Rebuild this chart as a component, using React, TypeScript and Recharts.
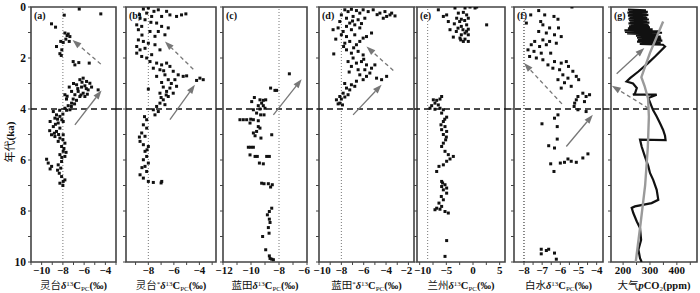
import type { ReactNode } from "react"
import {
  ReferenceArea,
  ReferenceLine,
  Scatter,
  ScatterChart,
  XAxis,
  YAxis,
} from "recharts"

type Pt = [number, number] // [value, age ka]

const ageTicks = [0, 1, 2, 3, 4, 5, 6, 7, 8, 9, 10]
const ageLabels = [0, 2, 4, 6, 8, 10]

// (a) Lingtai
const lingtai: Pt[] = [
  [-6.46, 0.08], [-4.43, 0.27], [-7.87, 0.32], [-9.07, 0.66], [-8.69, 0.79],
  [-7.81, 1.02], [-7.5, 1.06], [-7.34, 1.16], [-7.72, 1.26], [-7.97, 1.39], [-8.2, 1.35],
  [-7.4, 1.35], [-7.6, 1.12], [-8.6, 1.55], [-8.1, 1.68], [-8.28, 1.83], [-8.15, 1.9],
  [-7.03, 2.14], [-6.5, 2.18], [-6.87, 2.27], [-5.52, 2.2],
  [-6.4, 2.85], [-6.09, 2.79], [-5.77, 2.92], [-5.46, 2.99], [-6.71, 3.05], [-6.24, 3.14],
  [-5.93, 3.09], [-5.3, 3.14], [-5.62, 3.25], [-6.56, 3.31], [-6.09, 3.38], [-6.4, 3.51],
  [-5.93, 3.51], [-6.87, 3.44], [-4.68, 3.25], [-7.4, 3.14], [-7.18, 3.31], [-7.81, 3.44],
  [-7.66, 3.61], [-7.03, 3.61], [-6.72, 3.66], [-7.18, 3.77], [-7.5, 3.87], [-7.81, 3.97],
  [-7.34, 4.03], [-6.2, 2.95], [-5.8, 3.2], [-6.3, 3.45], [-5.7, 3.42], [-7.0, 3.0],
  [-6.6, 3.2], [-7.6, 3.5], [-6.9, 3.8], [-7.2, 3.9], [-7.65, 4.05],
  [-8.9, 4.1], [-8.6, 4.23], [-8.28, 4.29], [-8.75, 4.36], [-8.1, 4.42], [-8.44, 4.55],
  [-7.97, 4.49], [-8.9, 4.69], [-8.28, 4.75], [-8.6, 4.88], [-9.07, 5.01], [-8.75, 5.08],
  [-8.28, 5.14], [-7.97, 5.01], [-8.44, 5.27], [-8.12, 5.47], [-7.81, 5.34], [-7.97, 5.66],
  [-8.28, 5.79], [-7.81, 5.86], [-8.12, 6.06], [-9.53, 5.97], [-9.38, 6.12], [-9.06, 6.25],
  [-8.44, 6.19], [-8.2, 6.32], [-8.34, 6.52], [-8.12, 6.65], [-7.97, 6.84], [-8.28, 6.91],
  [-7.81, 6.78], [-9.2, 4.49], [-9.24, 4.85], [-8.5, 4.4], [-8.7, 4.6], [-8.4, 5.0],
  [-8.0, 5.2], [-7.9, 5.55], [-8.1, 5.9], [-9.2, 6.35], [-8.5, 6.4], [-8.0, 7.0],
  [-8.3, 4.05], [-8.0, 4.2], [-8.8, 4.95], [-7.7, 5.7],
]

// (b) Lingtai*
const lingtaiStar: Pt[] = [
  [-8.39, 0.08], [-8.0, 0.04], [-7.56, 0.17], [-7.22, 0.11], [-6.57, 0.17], [-8.13, 0.24],
  [-8.65, 0.44], [-8.26, 0.5], [-7.74, 0.37], [-6.96, 0.37], [-6.31, 0.31], [-5.79, 0.37],
  [-5.4, 0.31], [-5.06, 0.27], [-8.91, 0.7], [-8.52, 0.76], [-8.78, 0.89], [-7.35, 0.63],
  [-6.96, 0.76], [-6.44, 0.82], [-7.87, 0.96], [-7.22, 0.96], [-6.7, 1.09], [-7.48, 1.15],
  [-8.78, 1.29], [-8.39, 1.35], [-8.0, 1.42], [-8.91, 1.55], [-8.65, 1.68], [-8.26, 1.62],
  [-7.48, 1.48], [-7.09, 1.68], [-8.91, 1.81], [-8.52, 1.94], [-8.13, 2.0], [-7.74, 1.87],
  [-7.87, 2.14], [-7.35, 2.2], [-6.96, 2.27], [-6.57, 2.2], [-6.31, 2.33], [-7.61, 2.4],
  [-7.09, 2.46], [-6.05, 2.52], [-5.66, 2.66], [-5.27, 2.72], [-5.0, 2.7], [-6.7, 2.66],
  [-7.35, 2.72], [-3.96, 2.79], [-3.7, 2.85], [-4.22, 2.88], [-6.44, 2.85], [-5.92, 2.85],
  [-6.96, 2.96], [-6.83, 3.14], [-6.31, 3.18], [-5.79, 3.11], [-6.57, 3.31], [-6.05, 3.38],
  [-7.09, 3.38], [-8.0, 3.22], [-6.44, 3.51], [-6.83, 3.64], [-6.7, 3.83], [-7.09, 3.77],
  [-7.35, 3.9], [-7.61, 4.03], [-7.22, 4.1], [-7.48, 4.23], [-6.6, 3.45], [-6.2, 3.0],
  [-7.8, 0.6], [-8.5, 1.1], [-8.7, 0.3], [-6.8, 2.5], [-7.0, 3.55],
  [-8.13, 4.42], [-8.39, 4.62], [-8.13, 4.75], [-8.52, 4.94], [-8.26, 5.07], [-8.65, 5.27],
  [-8.39, 5.4], [-8.0, 5.47], [-8.26, 5.66], [-8.13, 5.86], [-8.39, 5.99], [-8.0, 6.12],
  [-8.26, 6.25], [-8.13, 6.45], [-8.65, 6.58], [-8.39, 6.71], [-8.0, 6.84], [-7.61, 6.88],
  [-6.95, 6.84], [-7.0, 6.9], [-8.7, 5.1], [-8.1, 5.6], [-8.5, 6.3], [-8.3, 4.3],
]

// (c) Lantian
const lantian: Pt[] = [
  [-7.26, 2.62], [-8.6, 3.18], [-8.29, 3.27], [-8.17, 3.27], [-9.76, 3.55], [-9.95, 3.71],
  [-9.36, 3.64], [-9.12, 3.66], [-8.95, 3.64], [-9.24, 3.77], [-9.48, 3.87], [-9.12, 3.87],
  [-9.36, 4.0], [-9.0, 3.97], [-9.6, 4.16], [-9.31, 4.23], [-9.07, 4.23], [-9.83, 4.03],
  [-10.79, 4.42], [-10.55, 4.42], [-10.31, 4.42], [-10.02, 4.4], [-9.83, 4.42], [-10.07, 4.55],
  [-9.48, 4.46], [-9.48, 4.69], [-9.6, 4.88], [-9.83, 4.94], [-9.36, 4.75], [-9.71, 5.05],
  [-9.29, 5.14], [-8.52, 5.01], [-10.19, 5.5], [-10.02, 5.5], [-9.83, 5.5], [-10.07, 5.8],
  [-9.71, 5.86], [-9.55, 5.86], [-8.88, 5.86], [-8.69, 5.86], [-9.4, 6.12], [-9.12, 6.15],
  [-9.24, 6.91], [-9.07, 6.93], [-8.76, 6.93], [-8.6, 7.06], [-8.48, 6.97],
  [-8.52, 7.89], [-8.69, 8.02], [-8.83, 8.15], [-8.69, 8.32], [-8.64, 8.45], [-8.76, 8.65],
  [-8.71, 8.87], [-9.17, 9.0], [-8.95, 9.52], [-8.69, 9.76], [-8.64, 9.86], [-8.52, 9.89],
  [-8.4, 9.91],
]

// (d) Lantian*
const lantianStar: Pt[] = [
  [-7.69, 0.11], [-7.4, 0.18], [-7.1, 0.09], [-6.65, 0.14], [-6.35, 0.24], [-6.05, 0.11],
  [-5.6, 0.18], [-5.15, 0.11], [-4.55, 0.24], [-4.1, 0.18], [-3.65, 0.31], [-3.2, 0.35],
  [-3.95, 0.37], [-4.25, 0.44], [-3.5, 0.24], [-8.0, 0.31], [-7.54, 0.44], [-6.95, 0.37],
  [-6.5, 0.5], [-5.9, 0.44], [-8.14, 0.57], [-7.25, 0.63], [-6.8, 0.7], [-7.54, 0.76],
  [-8.74, 0.89], [-8.29, 0.82], [-7.84, 0.96], [-7.1, 0.89], [-6.35, 0.82], [-8.5, 1.26],
  [-8.0, 1.09], [-7.54, 1.16], [-6.8, 1.09], [-6.05, 1.22], [-5.75, 1.16], [-5.3, 1.02],
  [-7.69, 1.42], [-7.25, 1.35], [-6.65, 1.48], [-6.35, 1.35], [-8.68, 1.84], [-7.54, 1.68],
  [-7.1, 1.81], [-6.5, 1.74], [-6.05, 1.88], [-6.95, 2.0], [-7.4, 2.14], [-6.65, 2.2],
  [-6.2, 2.14], [-5.75, 2.27], [-5.0, 2.27], [-7.1, 2.33], [-6.5, 2.46], [-5.9, 2.46],
  [-5.45, 2.59], [-4.85, 2.79], [-4.4, 2.85], [-3.95, 2.72], [-5.75, 2.72], [-6.35, 2.66],
  [-6.05, 2.85], [-6.65, 2.91], [-7.1, 3.05], [-6.8, 3.11], [-7.54, 3.18], [-7.25, 3.25],
  [-7.84, 3.38], [-7.4, 3.44], [-8.14, 3.51], [-7.69, 3.53], [-8.44, 3.64], [-8.0, 3.61],
  [-8.29, 3.8], [-7.9, 3.84], [-8.14, 3.77], [-7.0, 0.55], [-6.2, 0.65], [-7.8, 1.55],
  [-6.9, 1.6], [-7.3, 2.55], [-6.0, 2.05], [-5.3, 2.4], [-4.8, 0.3], [-7.7, 3.0],
]

// (e) Lanzhou
const lanzhou: Pt[] = [
  [-6.5, 0.11], [2.56, 0.7], [-3.38, 0.04], [-1.5, 0.04], [-0.56, 0.0], [0.38, 0.04],
  [0.69, 0.0], [-2.75, 0.24], [-1.81, 0.21], [-1.19, 0.31], [-4.94, 0.31], [-5.56, 0.37],
  [-3.06, 0.44], [-2.19, 0.48], [-0.88, 0.44], [-4.63, 0.57], [-2.5, 0.57], [-1.56, 0.53],
  [-3.5, 0.66], [-1.19, 0.7], [-2.19, 0.76], [-2.81, 0.83], [-4.31, 0.89], [-1.88, 0.89],
  [-0.88, 0.87], [-3.13, 0.96], [-1.5, 1.02], [-2.19, 1.09], [-0.88, 1.09], [-3.69, 1.18],
  [-2.44, 1.22], [-1.5, 1.26], [-1.81, 1.35], [-0.88, 1.35], [-2.3, 1.29], [-1.2, 0.95],
  [-7.44, 3.64], [-7.13, 3.77], [-7.75, 3.87], [-6.81, 3.66], [-6.19, 3.61], [-5.88, 3.51],
  [-6.5, 3.84], [-8.06, 3.97], [-7.13, 4.01], [-6.19, 3.97], [-5.56, 4.03], [-5.88, 4.16],
  [-4.94, 4.32], [-5.56, 4.49], [-6.0, 4.62], [-5.25, 4.69], [-5.88, 4.81], [-4.94, 4.88],
  [-5.56, 5.0], [-5.13, 5.21], [-5.56, 5.34], [-5.88, 5.47], [-5.25, 5.66], [-4.63, 5.79],
  [-3.69, 5.86], [-4.31, 5.96], [-4.94, 6.05], [-5.56, 6.19], [-6.38, 6.25], [-6.81, 6.45],
  [-5.88, 6.84], [-5.25, 6.97], [-5.56, 7.17], [-4.94, 7.3], [-5.94, 7.43], [-5.56, 7.56],
  [-6.38, 7.69], [-6.81, 7.89], [-7.13, 7.95], [-6.19, 7.93], [-5.25, 8.02], [-4.63, 8.08],
  [-5.88, 7.82], [-4.94, 7.1], [-5.88, 7.04], [-5.3, 4.4], [-5.0, 5.1], [-5.7, 6.9],
  [-4.94, 9.16], [-5.25, 9.78],
]

// (f) Baishui
const baishui: Pt[] = [
  [-5.36, 0.0], [-7.19, 0.14], [-7.63, 0.31], [-6.86, 0.31], [-6.35, 0.37], [-6.13, 0.48],
  [-7.08, 0.57], [-6.96, 0.7], [-7.87, 0.63], [-6.59, 0.82], [-6.1, 0.82], [-7.19, 0.96],
  [-6.77, 1.02], [-6.32, 1.09], [-5.95, 1.16], [-6.96, 1.29], [-7.41, 1.35], [-6.59, 1.35],
  [-7.6, 1.48], [-7.14, 1.55], [-6.77, 1.48], [-6.22, 1.42], [-7.78, 1.68], [-7.45, 1.74],
  [-7.05, 1.81], [-6.53, 1.81], [-7.69, 1.94], [-7.32, 2.0], [-6.96, 2.07], [-6.32, 2.14],
  [-5.95, 2.2], [-5.67, 2.14], [-6.68, 2.27], [-6.41, 2.4], [-6.04, 2.46], [-5.55, 2.33],
  [-5.31, 2.52], [-5.86, 2.66], [-5.58, 2.79], [-5.12, 2.72], [-4.99, 2.85], [-6.13, 2.85],
  [-5.77, 2.97], [-5.4, 3.11], [-5.95, 3.18], [-4.76, 3.38], [-4.58, 3.51], [-4.39, 3.44],
  [-5.03, 3.51], [-5.12, 3.64], [-5.21, 3.77], [-4.67, 3.71], [-5.24, 3.9], [-5.03, 4.03],
  [-4.58, 4.1], [-6.13, 4.23], [-6.32, 4.36], [-7.01, 4.58], [-6.17, 4.69], [-6.17, 5.18],
  [-6.64, 5.44], [-6.32, 5.53], [-5.58, 5.96], [-5.77, 6.09], [-5.4, 6.05], [-5.12, 6.09],
  [-4.76, 5.92], [-4.48, 5.76], [-6.0, 6.12], [-6.53, 6.15], [-6.35, 6.45],
  [-7.05, 9.5], [-6.77, 9.55], [-6.64, 9.5], [-7.05, 9.68], [-6.32, 9.65], [-6.22, 9.89],
]

// (g) atmospheric pCO2 [ppm, age]
const co2Record: Pt[] = [
  [218, 0.1], [285, 0.13], [222, 0.16], [292, 0.19], [216, 0.22], [288, 0.25], [220, 0.28],
  [294, 0.31], [218, 0.34], [286, 0.37], [224, 0.4], [290, 0.43], [220, 0.46], [296, 0.49],
  [222, 0.52], [290, 0.55], [226, 0.58], [298, 0.61], [220, 0.64], [292, 0.67], [228, 0.7],
  [296, 0.73], [222, 0.76], [300, 0.8], [218, 0.84], [310, 0.88], [205, 0.92], [335, 0.95],
  [207, 0.98], [345, 1.01], [215, 1.04], [330, 1.08], [248, 1.12], [340, 1.16], [252, 1.2],
  [342, 1.24], [255, 1.28], [346, 1.32], [252, 1.36], [340, 1.4], [262, 1.45], [348, 1.48],
  [356, 1.55], [319, 1.94], [293, 2.2], [257, 2.53], [226, 2.79], [213, 2.92], [237, 3.0],
  [251, 3.18], [244, 3.4], [237, 3.44], [325, 3.44], [294, 3.57], [306, 3.9], [311, 4.03],
  [325, 4.29], [337, 4.55], [349, 4.82], [356, 5.05], [358, 5.22], [263, 5.2], [269, 5.47],
  [281, 5.86], [294, 6.25], [300, 6.51], [312, 6.78], [325, 7.17], [331, 7.56], [306, 7.69],
  [244, 7.82], [232, 7.88], [238, 8.08], [251, 8.41], [263, 8.67], [267, 9.13], [257, 9.52],
  [263, 9.85], [269, 10],
]

const co2Trend: Pt[] = [
  [349, 0.57], [300, 1.8], [268, 2.75], [280, 3.1], [293, 3.6], [296, 4.3], [292, 5.5],
  [282, 7.0], [265, 8.5], [247, 10],
]

// arrows: [x0, age0, x1, age1] tail -> head
type Arrow = { seg: [number, number, number, number]; dashed: boolean }

const arrowsA: Arrow[] = [
  { seg: [-4.43, 2.24, -7.09, 1.29], dashed: true },
  { seg: [-6.87, 4.62, -4.36, 3.27], dashed: false },
]
const arrowsB: Arrow[] = [
  { seg: [-4.48, 2.44, -6.7, 1.35], dashed: true },
  { seg: [-6.31, 4.42, -4.35, 3.05], dashed: false },
]
const arrowsC: Arrow[] = [{ seg: [-8.4, 4.23, -6.38, 2.83], dashed: false }]
const arrowsD: Arrow[] = [
  { seg: [-3.35, 2.49, -5.75, 1.55], dashed: true },
  { seg: [-6.95, 4.23, -4.4, 3.05], dashed: false },
]
const arrowsF: Arrow[] = [
  { seg: [-5.91, 3.8, -8.0, 2.2], dashed: true },
  { seg: [-5.67, 5.47, -4.21, 4.23], dashed: false },
]
const arrowsG: Arrow[] = [
  { seg: [176, 2.62, 279, 1.61], dashed: false },
  { seg: [294, 3.97, 158, 3.09], dashed: true },
]

const toRows = (pts: Pt[]) => pts.map(([x, y]) => ({ x, y }))

const TICK_FONT = "'Liberation Serif', 'DejaVu Serif', serif"
const CJK_FONT = "'Noto Sans CJK SC', sans-serif"
const FRAME = "#444"

const fmt = (v: number) => (v < 0 ? "\u2212" + Math.abs(v) : String(v))

const square = (p: any) => (
  <rect x={p.cx - 1.5} y={p.cy - 1.5} width={3} height={3} fill="#111" />
)

function arrowShape(dashed: boolean) {
  return (p: any) => {
    const { x1, y1, x2, y2 } = p
    const ang = Math.atan2(y2 - y1, x2 - x1)
    const len = 9
    const half = 3.2
    const bx = x2 - len * Math.cos(ang)
    const by = y2 - len * Math.sin(ang)
    const nx = -Math.sin(ang) * half
    const ny = Math.cos(ang) * half
    return (
      <g>
        <line
          x1={x1}
          y1={y1}
          x2={bx}
          y2={by}
          stroke="#777"
          strokeWidth={1.3}
          strokeDasharray={dashed ? "4 3" : undefined}
        />
        <polygon
          points={`${x2},${y2} ${bx + nx},${by + ny} ${bx - nx},${by - ny}`}
          fill="#777"
        />
      </g>
    )
  }
}

type PanelProps = {
  id: string
  left: number
  width: number
  domain: [number, number]
  ticks: number[]
  labels: number[]
  nudge?: Record<string, number>
  points?: Pt[]
  dotted?: number
  dottedColor?: string
  arrows: Arrow[]
  gapLeft: number
  showAgeLabels?: boolean
  title: ReactNode
}

const YW = 30

function Panel(props: PanelProps) {
  const {
    id, left, width, domain, ticks, labels, nudge, points, dotted, dottedColor,
    arrows, gapLeft, showAgeLabels, title,
  } = props
  const xTick = (p: any) => {
    const v = p.payload.value as number
    if (!labels.includes(v)) return <g />
    return (
      <text
        x={p.x + (nudge?.[String(v)] ?? 0)}
        y={p.y}
        dy="0.75em"
        textAnchor="middle"
        fill="#111"
        fontSize={11}
        fontFamily={TICK_FONT}
        fontWeight={700}
      >
        {fmt(v)}
      </text>
    )
  }
  return (
    <>
      <div style={{ position: "absolute", left: left - YW, top: 0 }}>
        <ScatterChart
          width={width + YW + 12}
          height={293}
          margin={{ top: 7, right: 12, bottom: 11, left: 0 }}
        >
          <XAxis
            type="number"
            dataKey="x"
            domain={domain}
            allowDataOverflow
            ticks={ticks}
            interval={0}
            axisLine={false}
            tickSize={3}
            tickMargin={1}
            height={20}
            tickLine={{ stroke: FRAME }}
            tick={xTick}
          />
          <YAxis
            type="number"
            dataKey="y"
            domain={[0, 10]}
            reversed
            allowDataOverflow
            ticks={ageTicks}
            interval={0}
            width={YW}
            axisLine={false}
            tickSize={3}
            tickLine={{ stroke: FRAME }}
            tickFormatter={(v: number) =>
              showAgeLabels && ageLabels.includes(v) ? String(v) : ""
            }
            tick={{ fill: "#111", fontSize: 11.5, fontFamily: TICK_FONT, fontWeight: 700 }}
          />
          <ReferenceArea
            x1={domain[0]}
            x2={domain[1]}
            y1={0}
            y2={10}
            fill="none"
            stroke={FRAME}
            strokeWidth={1.6}
            ifOverflow="visible"
          />
          {dotted !== undefined && (
            <ReferenceLine
              x={dotted}
              stroke={dottedColor ?? "#777"}
              strokeWidth={1}
              strokeDasharray="1 2"
            />
          )}
          <ReferenceLine
            y={4}
            ifOverflow="visible"
            shape={(p: any) => (
              <line
                x1={p.x1 - gapLeft}
                y1={p.y1}
                x2={p.x2}
                y2={p.y2}
                stroke="#111"
                strokeWidth={1.4}
                strokeDasharray="6 4"
              />
            )}
          />
          {points && (
            <Scatter
              data={toRows(points)}
              shape={square}
              isAnimationActive={false}
            />
          )}
          {id === "g" && (
            <Scatter
              data={toRows(co2Record)}
              line={{ stroke: "#111", strokeWidth: 2.2 }}
              lineType="joint"
              shape={() => <g />}
              isAnimationActive={false}
            />
          )}
          {id === "g" && (
            <Scatter
              data={toRows(co2Trend)}
              line={{ stroke: "#9a9a9a", strokeWidth: 2.4 }}
              lineType="joint"
              shape={() => <g />}
              isAnimationActive={false}
            />
          )}
          {arrows.map((a, i) => (
            <ReferenceLine
              key={i}
              segment={[
                { x: a.seg[0], y: a.seg[1] },
                { x: a.seg[2], y: a.seg[3] },
              ]}
              ifOverflow="visible"
              shape={arrowShape(a.dashed)}
            />
          ))}
        </ScatterChart>
      </div>
      <div
        style={{
          position: "absolute",
          left: left + 3,
          top: 11,
          fontFamily: TICK_FONT,
          fontSize: 10,
          fontWeight: 700,
          color: "#111",
          lineHeight: 1,
        }}
      >
        ({id})
      </div>
      <div
        style={{
          position: "absolute",
          left: left - 20,
          width: width + 40,
          top: 280,
          textAlign: "center",
          fontFamily: CJK_FONT,
          fontSize: 10.5,
          color: "#111",
          lineHeight: 1,
          whiteSpace: "nowrap",
        }}
      >
        {title}
      </div>
    </>
  )
}

const sup = { fontSize: 7, verticalAlign: "3px", lineHeight: 1, fontFamily: TICK_FONT } as const
const sub = { fontSize: 7, verticalAlign: "-2px", lineHeight: 1, fontFamily: TICK_FONT } as const
const delta = { fontStyle: "italic", fontFamily: TICK_FONT, fontWeight: 700 } as const
const roman = { fontFamily: TICK_FONT, fontWeight: 700 } as const

function DeltaTitle({ site, star }: { site: string; star?: boolean }) {
  return (
    <span>
      {site}
      {star && <span style={sup}>*</span>}
      <span style={delta}>δ</span>
      <span style={sup}>13</span>
      <span style={roman}>C</span>
      <span style={sub}>PC</span>
      <span style={roman}>(‰)</span>
    </span>
  )
}

export default function App() {
  return (
    <div
      style={{
        position: "absolute",
        left: 0,
        top: 0,
        width: 700,
        height: 293,
        background: "#fff",
        overflow: "hidden",
      }}
    >
      <Panel
        id="a" left={31} width={85} domain={[-11, -3]}
        ticks={[-11, -10, -9, -8, -7, -6, -5, -4, -3]} labels={[-10, -8, -6, -4]}
        points={lingtai} dotted={-8} arrows={arrowsA} gapLeft={0} showAgeLabels
        title={<DeltaTitle site="灵台" />}
      />
      <Panel
        id="b" left={126} width={90} domain={[-9.75, -2.7]}
        ticks={[-9, -8, -7, -6, -5, -4, -3]} labels={[-8, -6, -4]}
        points={lingtaiStar} dotted={-8} arrows={arrowsB} gapLeft={10}
        title={<DeltaTitle site="灵台" star />}
      />
      <Panel
        id="c" left={223} width={84} domain={[-12, -6]}
        ticks={[-12, -11, -10, -9, -8, -7, -6]} labels={[-12, -10, -8, -6]}
        nudge={{ "-6": -3, "-12": 1 }}
        points={lantian} dotted={-8} arrows={arrowsC} gapLeft={7}
        title={<DeltaTitle site="蓝田" />}
      />
      <Panel
        id="d" left={319} width={95} domain={[-10, -1.5]}
        ticks={[-10, -9, -8, -7, -6, -5, -4, -3, -2]} labels={[-10, -8, -6, -4, -2]}
        nudge={{ "-10": 3, "-2": -2 }}
        points={lantianStar} dotted={-8} arrows={arrowsD} gapLeft={12}
        title={<DeltaTitle site="蓝田" star />}
      />
      <Panel
        id="e" left={417} width={88} domain={[-10.5, 6]}
        ticks={[-10, -7.5, -5, -2.5, 0, 2.5, 5]} labels={[-10, -5, 0, 5]}
        nudge={{ "-10": 3 }}
        points={lanzhou} dotted={-8.5} arrows={[]} gapLeft={3}
        title={<DeltaTitle site="兰州" />}
      />
      <Panel
        id="f" left={514} width={89} domain={[-8.55, -3.65]}
        ticks={[-8, -7.5, -7, -6.5, -6, -5.5, -5, -4.5, -4]} labels={[-8, -7, -6, -5, -4]}
        points={baishui} dotted={-8} dottedColor="#111" arrows={arrowsF} gapLeft={9}
        title={<DeltaTitle site="白水" />}
      />
      <Panel
        id="g" left={611} width={86} domain={[155, 475]}
        ticks={[200, 250, 300, 350, 400, 450]} labels={[200, 300, 400]}
        arrows={arrowsG} gapLeft={8}
        title={
          <span>
            大气<span style={{ ...roman, fontStyle: "italic" }}>p</span>
            <span style={roman}>CO</span>
            <span style={sub}>2</span>
            <span style={roman}>(ppm)</span>
          </span>
        }
      />
      <div
        style={{
          position: "absolute",
          left: 9 - 30,
          top: 142 - 7,
          width: 60,
          height: 14,
          textAlign: "center",
          transform: "rotate(-90deg)",
          fontFamily: CJK_FONT,
          fontSize: 11,
          lineHeight: "14px",
          color: "#111",
          whiteSpace: "nowrap",
        }}
      >
        年代<span style={roman}>(ka)</span>
      </div>
    </div>
  )
}
